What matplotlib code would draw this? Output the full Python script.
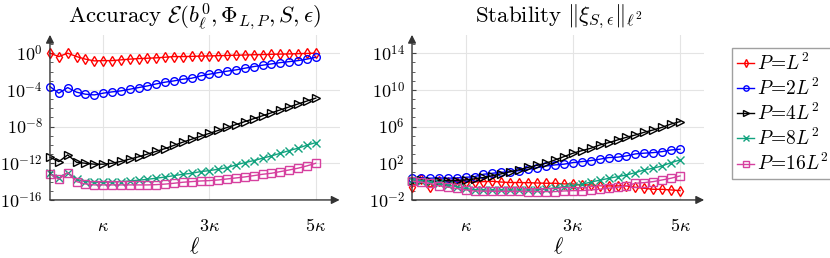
import numpy as np
import matplotlib
matplotlib.use('Agg')
import matplotlib.pyplot as plt
from matplotlib.ticker import FixedLocator

plt.rcParams['mathtext.fontset'] = 'cm'
plt.rcParams['font.family'] = 'serif'
plt.rcParams['font.serif'] = ['DejaVu Serif']

# sample index l = 0..30, kappa = 6
ell = np.arange(31)
xtick_pos = [6, 18, 30]
xtick_labels = [r'$\kappa$', r'$3\kappa$', r'$5\kappa$']

labels = [r'$P\!=\!L^2$', r'$P\!=\!2L^2$', r'$P\!=\!4L^2$', r'$P\!=\!8L^2$', r'$P\!=\!16L^2$']
colors = ['#ff0000', '#0000ff', '#000000', '#12a37f', '#d6409f']
markers = ['d', 'o', '>', 'x', 's']

# accuracy, log10 values
acc_p1 = [0, -0.37, 0, -0.37, -0.65, -0.84, -0.81, -0.81, -0.73, -0.65, -0.59, -0.55, -0.51, -0.44, -0.37, -0.37,
          -0.35, -0.32, -0.3, -0.27, -0.25, -0.22, -0.2, -0.17, -0.15, -0.12, -0.1, -0.08, -0.05, -0.03, 0]
acc_p2 = [-3.64, -4.36, -3.75, -4.25, -4.47, -4.55, -4.36, -4.22, -4.11, -3.93, -3.75, -3.57, -3.35, -3.16, -3.02,
          -2.84, -2.73, -2.48, -2.29, -2.12, -1.96, -1.82, -1.64, -1.46, -1.31, -1.17, -1.03, -0.92, -0.81, -0.65, -0.44]
acc_p4 = [-11.34, -11.82, -11.09, -11.89, -12.0, -12.1, -12.1, -12.0, -11.8, -11.55, -11.3, -11.0, -10.7, -10.4,
          -10.05, -9.7, -9.38, -9.06, -8.74, -8.42, -8.1, -7.78, -7.46, -7.14, -6.82, -6.5, -6.18, -5.86, -5.54,
          -5.22, -4.9]
acc_p8 = [-13.09, -13.63, -13.02, -13.74, -14.0, -14.07, -14.07, -14.05, -14.0, -13.93, -13.85, -13.75, -13.63,
          -13.5, -13.35, -13.2, -13.09, -12.91, -12.8, -12.65, -12.48, -12.18, -11.93, -11.71, -11.45, -11.2,
          -10.91, -10.62, -10.36, -10.03, -9.75]
acc_p16 = [-13.16, -13.74, -13.02, -14.0, -14.25, -14.36, -14.36, -14.36, -14.36, -14.36, -14.36, -14.36, -14.33,
           -14.27, -14.18, -14.07, -14.0, -13.93, -13.89, -13.82, -13.71, -13.6, -13.49, -13.35, -13.2, -13.09,
           -12.91, -12.73, -12.54, -12.29, -12.0]

# stability, log10 values
stab_p1 = [-0.62, 0.29, -0.62, 0.07, 0.0, 0.0, -0.05, -0.05, 0.0, 0.03, -0.05, -0.1, -0.1, -0.12, -0.15, -0.18,
           -0.18, -0.25, -0.25, -0.36, -0.36, -0.44, -0.47, -0.47, -0.47, -0.62, -0.73, -0.84, -0.84, -0.91, -0.98]
stab_p2 = [0.37, 0.43, 0.37, 0.4, 0.37, 0.4, 0.47, 0.54, 0.8, 0.91, 1.02, 1.08, 1.19, 1.34, 1.52, 1.7, 1.82, 1.9,
           2.07, 2.18, 2.29, 2.44, 2.62, 2.66, 2.8, 3.02, 3.1, 3.16, 3.27, 3.45, 3.53]
stab_p4 = [0.1, 0.15, 0.1, 0.1, 0.1, 0.12, 0.18, 0.3, 0.45, 0.65, 0.85, 1.08, 1.3, 1.55, 1.78, 2.0, 2.36, 2.72,
           3.09, 3.37, 3.63, 3.99, 4.24, 4.54, 4.83, 5.08, 5.38, 5.63, 5.92, 6.28, 6.54]
stab_p8 = [0.18, 0.1, 0.0, -0.2, -0.4, -0.55, -0.75, -0.88, -0.92, -0.92, -0.92, -0.92, -0.92, -0.92, -0.92, -0.8,
           -0.68, -0.55, -0.43, -0.3, -0.05, 0.15, 0.35, 0.54, 0.72, 0.98, 1.27, 1.46, 1.71, 2.07, 2.36]
stab_p16 = [0.05, -0.05, -0.2, -0.45, -0.6, -0.75, -0.9, -1.02, -1.04, -1.05, -1.06, -1.07, -1.07, -1.08, -1.09,
            -1.09, -1.09, -1.02, -0.98, -0.98, -0.91, -0.83, -0.72, -0.62, -0.47, -0.18, -0.11, 0.0, 0.18, 0.37, 0.62]

acc_exps = [0, -4, -8, -12, -16]
stab_exps = [-2, 2, 6, 10, 14]


def style_axes(ax, ylim, exps):
    ax.set_yscale('log')
    ax.set_xlim(0, 32.7)
    ax.set_ylim(*ylim)
    for s in ax.spines.values():
        s.set_visible(False)
    ax.set_xticks(xtick_pos)
    ax.set_xticklabels(xtick_labels, fontsize=13)
    ax.yaxis.set_major_locator(FixedLocator([10.0 ** e for e in exps]))
    ax.set_yticklabels([r'$10^{%d}$' % e for e in exps], fontsize=13)
    lo, hi = int(np.log10(ylim[0])), int(np.log10(ylim[1]))
    ax.yaxis.set_minor_locator(FixedLocator([10.0 ** e for e in range(lo, hi)]))
    ax.yaxis.set_minor_formatter(plt.NullFormatter())
    ax.tick_params(axis='y', which='major', direction='in', length=3, color='#444444', pad=5)
    ax.tick_params(axis='y', which='minor', direction='in', length=2, color='#444444')
    ax.tick_params(axis='x', which='major', length=0, pad=12)
    ax.grid(True, which='major', color='#e4e4e4', linewidth=0.8)
    ax.set_axisbelow(True)
    # axis lines with arrow heads
    arrow = dict(arrowstyle='-|>', color='#333333', lw=1.0, mutation_scale=12, shrinkA=0, shrinkB=0)
    ax.annotate('', xy=(0, 1.0), xytext=(0, 0), xycoords='axes fraction', arrowprops=arrow)
    ax.annotate('', xy=(1.0, 0), xytext=(0, 0), xycoords='axes fraction', arrowprops=arrow)
    ax.set_xlabel(r'$\ell$', fontsize=16, labelpad=1)


fig = plt.figure(figsize=(8.3, 2.58), dpi=100)
ax1 = fig.add_axes([0.0602, 0.225, 0.349, 0.64])
ax2 = fig.add_axes([0.4964, 0.225, 0.352, 0.64])

acc = [acc_p1, acc_p2, acc_p4, acc_p8, acc_p16]
stab = [stab_p1, stab_p2, stab_p4, stab_p8, stab_p16]

for ax, series in [(ax1, acc), (ax2, stab)]:
    for vals, c, m, lab in zip(series, colors, markers, labels):
        face = c if m == 'x' else 'none'
        ax.plot(ell, 10.0 ** np.array(vals), color=c, marker=m, markersize=5.5, markerfacecolor=face,
                markeredgewidth=1.0, linewidth=1.0, label=lab, clip_on=False, zorder=3)

style_axes(ax1, (1e-16, 1e2), acc_exps)
style_axes(ax2, (1e-2, 1e16), stab_exps)

ax1.set_title(r'$\mathrm{Accuracy}\ \mathcal{E}(b^0_\ell,\Phi_{L,P},S,\epsilon)$', fontsize=16.5, pad=9)
ax2.set_title(r'$\mathrm{Stability}\ \|\mathbf{\xi}_{S,\epsilon}\|_{\ell^2}$', fontsize=16.5, pad=9)

handles, labs = ax2.get_legend_handles_labels()
fig.legend(handles, labs, loc='upper left', bbox_to_anchor=(0.882, 0.815), fontsize=14,
           frameon=True, fancybox=False, edgecolor='#888888', handlelength=0.9, handletextpad=0.15,
           labelspacing=0.2, borderpad=0.25, borderaxespad=0, markerscale=0.7)

fig.savefig('out.png', dpi=100)
